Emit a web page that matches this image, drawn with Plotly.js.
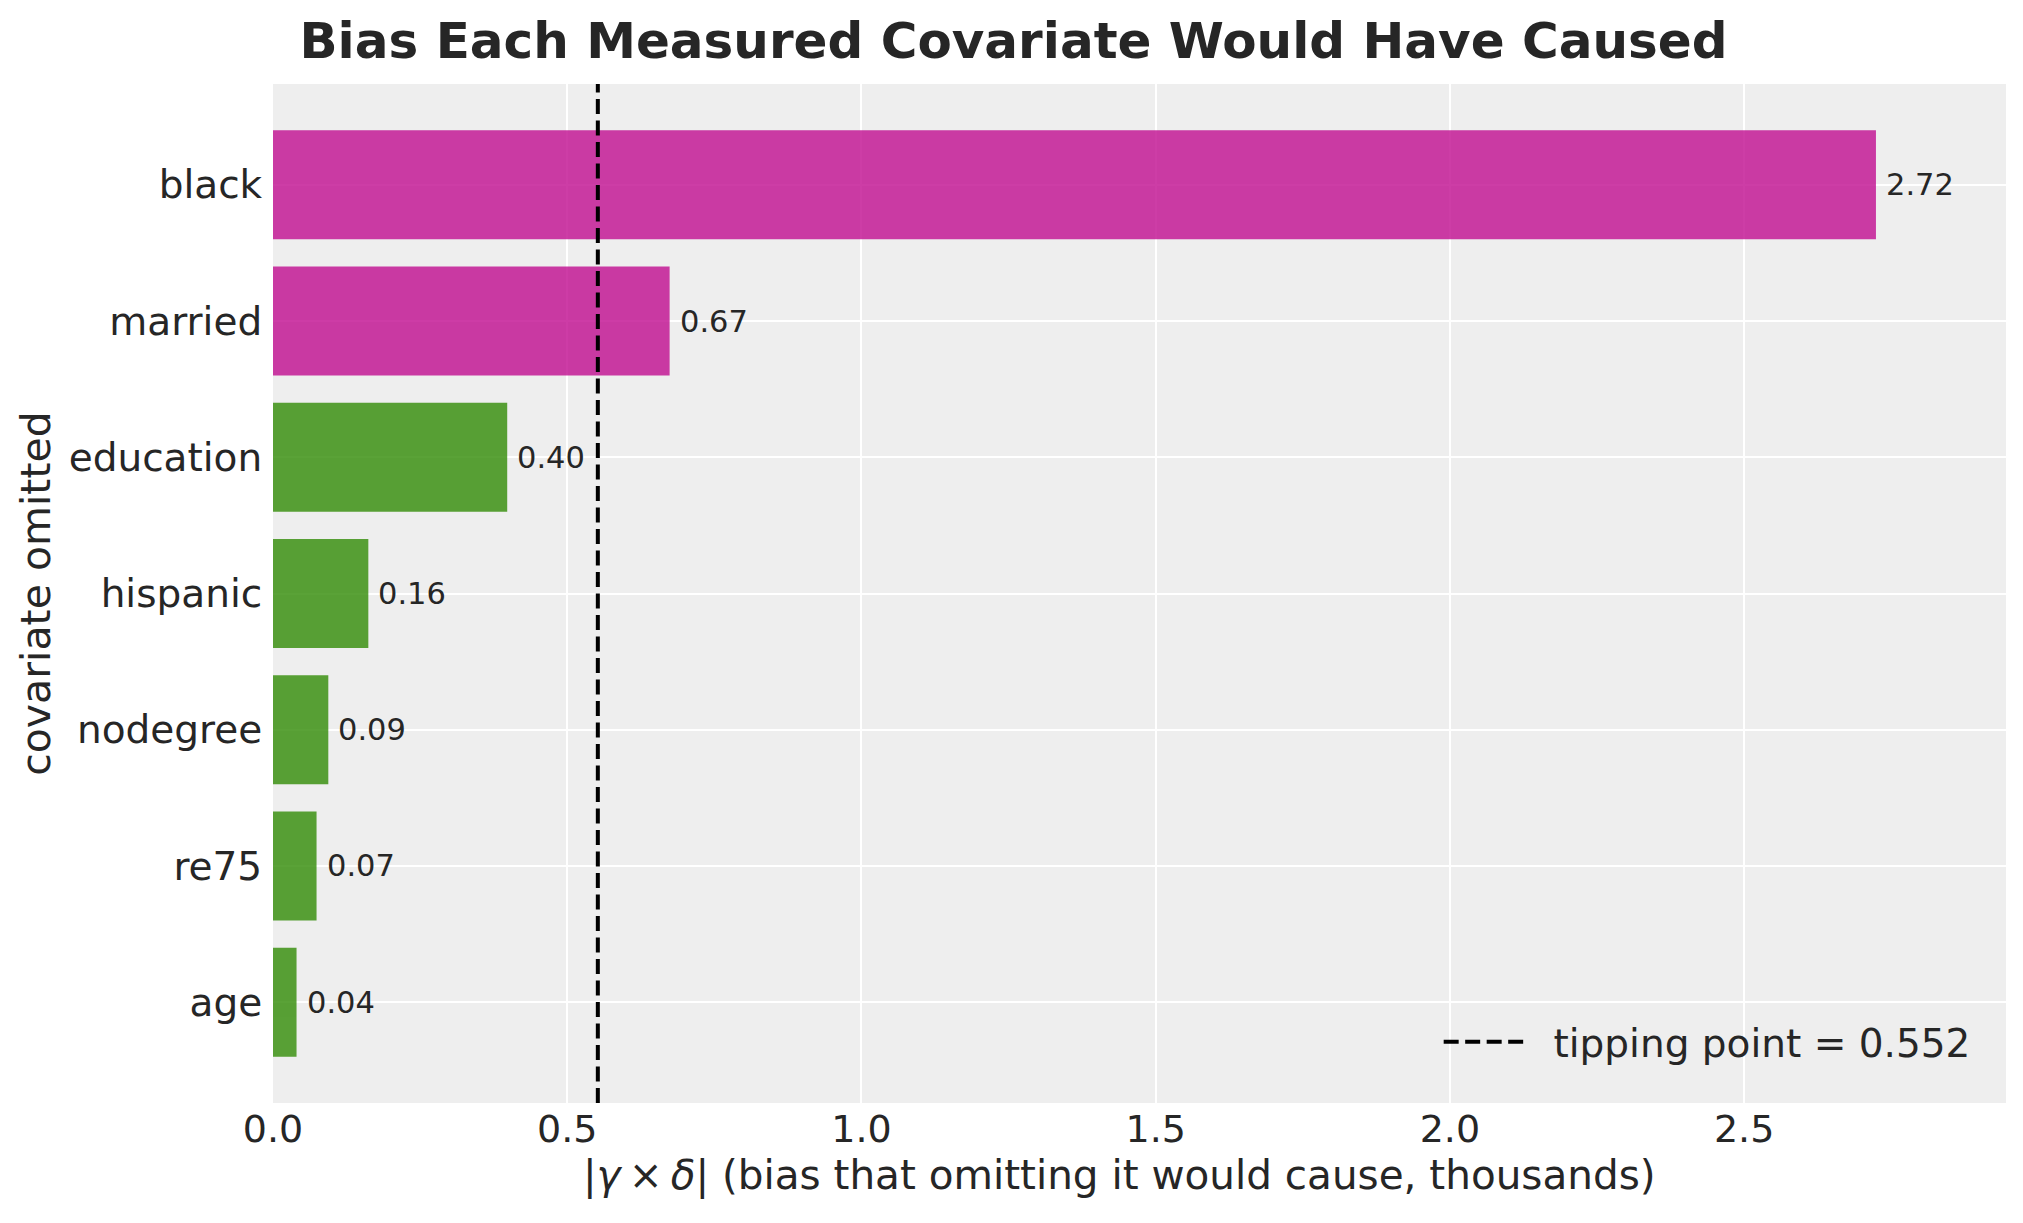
<!DOCTYPE html>
<html>
<head>
<meta charset="utf-8">
<script src="https://cdn.plot.ly/plotly-3.0.1.min.js"></script>
<style>html,body{margin:0;padding:0;background:#fff;}#chart{width:2023px;height:1223px;}</style>
</head>
<body>
<div id="chart"></div>
<script>
// Data
const covariates = ["black", "married", "education", "hispanic", "nodegree", "re75", "age"];
const biasValues = [2.724, 0.674, 0.398, 0.162, 0.094, 0.074, 0.040];
const tippingPoint = 0.552;
const xTickVals = [0.0, 0.5, 1.0, 1.5, 2.0, 2.5];
const xTickText = ["0.0", "0.5", "1.0", "1.5", "2.0", "2.5"];

const MAGENTA = "#c10c90";
const GREEN = "#328c06";
const TEXT = "#262626";
const FONT = "DejaVu Sans, sans-serif";
const NB = "\u00a0";

const barColors = biasValues.map(v => v > tippingPoint ? MAGENTA : GREEN);

const barTrace = {
  type: "bar",
  orientation: "h",
  x: biasValues,
  y: covariates,
  marker: {color: barColors, line: {width: 0}},
  opacity: 0.8,
  width: 0.8,
  showlegend: false,
  hoverinfo: "x+y"
};

const valueAnnotations = covariates.map((c, i) => ({
  x: biasValues[i],
  y: c,
  xref: "x",
  yref: "y",
  text: biasValues[i].toFixed(2),
  showarrow: false,
  xanchor: "left",
  yanchor: "middle",
  xshift: 8,
  font: {family: FONT, size: 30.5, color: TEXT}
}));

const layout = {
  width: 2023,
  height: 1223,
  paper_bgcolor: "#ffffff",
  plot_bgcolor: "#eeeeee",
  margin: {l: 273, r: 17, t: 84, b: 120, pad: 0},
  font: {family: FONT, color: TEXT},
  title: {
    text: "Bias Each Measured Covariate Would Have Caused",
    font: {family: FONT, size: 50, color: TEXT, weight: "bold"},
    xref: "container", x: 0.501, xanchor: "center",
    yref: "container", y: 1 - 40/1223, yanchor: "middle"
  },
  xaxis: {
    range: [0, 2.945],
    tickvals: xTickVals,
    ticktext: xTickText,
    showgrid: true,
    gridcolor: "#ffffff",
    gridwidth: 2,
    zeroline: false,
    showline: false,
    ticks: "",
    tickfont: {family: FONT, size: 38, color: TEXT},
    title: {
      text: "|<i>γ</i>\u2009×\u2009<i>δ</i>| (bias that omitting it would cause, thousands)<span style=\"color:rgba(0,0,0,0)\">__</span>",
      font: {family: FONT, size: 40.5, color: TEXT},
      standoff: 8
    },
    automargin: false
  },
  yaxis: {
    type: "category",
    categoryorder: "array",
    categoryarray: covariates,
    range: [6.74, -0.74],
    showgrid: true,
    gridcolor: "#ffffff",
    gridwidth: 2,
    zeroline: false,
    showline: false,
    ticks: "outside",
    ticklen: 2,
    tickcolor: "rgba(0,0,0,0)",
    tickfont: {family: FONT, size: 39, color: TEXT},
    title: {
      text: "covariate omitted",
      font: {family: FONT, size: 41, color: TEXT},
      standoff: 5
    },
    automargin: false
  },
  shapes: [{
    type: "line",
    xref: "x", yref: "paper",
    x0: tippingPoint, x1: tippingPoint,
    y0: 0, y1: 1,
    line: {color: "#000000", width: 4, dash: "15px,6.5px"},
    layer: "above",
    showlegend: true,
    name: NB + NB + "tipping point = " + tippingPoint.toFixed(3)
  }],
  annotations: valueAnnotations,
  showlegend: true,
  legend: {
    x: 0.9825, xanchor: "right",
    y: 0.06, yanchor: "middle",
    bgcolor: "rgba(0,0,0,0)",
    borderwidth: 0,
    itemwidth: 80,
    font: {family: FONT, size: 39, color: TEXT}
  },
  bargap: 0.2
};

Plotly.newPlot("chart", [barTrace], layout, {displayModeBar: false, staticPlot: true});
</script>
</body>
</html>
